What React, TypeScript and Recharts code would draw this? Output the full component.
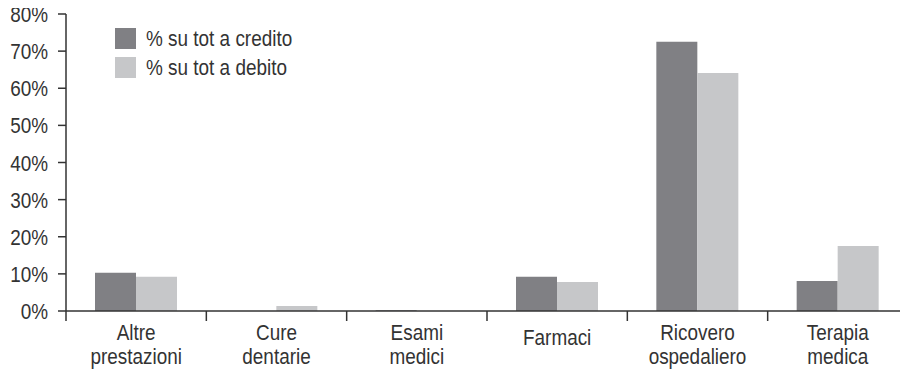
import { Bar, BarChart, XAxis, YAxis } from 'recharts';

const categories = ['Altre\nprestazioni', 'Cure\ndentarie', 'Esami\nmedici', 'Farmaci', 'Ricovero\nospedaliero', 'Terapia\nmedica'];
const credito = [10.3, 0, 0.2, 9.2, 72.5, 8.1];
const debito = [9.2, 1.35, 0, 7.8, 64.1, 17.5];
const seriesNames = ['% su tot a credito', '% su tot a debito'];
const yTicks = [0, 10, 20, 30, 40, 50, 60, 70, 80];

const CREDITO = '#808084';
const DEBITO = '#c6c7c9';
const AXIS = '#333333';
const FONT = '"Liberation Sans", Arial, sans-serif';
// condensed look: squeeze the regular face horizontally
const SQUEEZE = 0.86;

const data = categories.map((name, i) => ({ name, credito: credito[i], debito: debito[i] }));

const WIDTH = 900;
const HEIGHT = 365;
const Y_WIDTH = 58;
const BAND = (WIDTH - Y_WIDTH) / categories.length;

function NarrowText({ x, y, anchor, children }: any) {
  return (
    <g transform={`translate(${x},${y}) scale(${SQUEEZE},1)`}>
      <text x={0} y={0} textAnchor={anchor} fill="#333" fontSize={22} fontFamily={FONT}>
        {children}
      </text>
    </g>
  );
}

function CategoryTick({ x, y, payload }: any) {
  const lines = String(payload.value).split('\n');
  const left = x - BAND / 2;
  return (
    <g>
      <line x1={left} x2={left} y1={y} y2={y + 10} stroke={AXIS} strokeWidth={1.5} />
      {lines.map((line, i) => (
        <NarrowText key={i} x={x} y={lines.length === 1 ? y + 34 : y + 29 + i * 24} anchor="middle">
          {line}
        </NarrowText>
      ))}
    </g>
  );
}

function PercentTick({ x, y, payload }: any) {
  return (
    <NarrowText x={x} y={y + 8} anchor="end">
      {`${payload.value}%`}
    </NarrowText>
  );
}

export default function App() {
  return (
    <div style={{ position: 'relative', width: WIDTH, height: HEIGHT }}>
      {/* let the top tick label spill above the svg box */}
      <style>{'.recharts-surface { overflow: visible; }'}</style>
      <BarChart
        width={WIDTH}
        height={HEIGHT}
        data={data}
        margin={{ top: 6, right: 0, bottom: 0, left: 0 }}
        barGap={0}
      >
        <XAxis
          dataKey="name"
          interval={0}
          height={62}
          tickSize={0}
          tickMargin={0}
          tick={<CategoryTick />}
          axisLine={{ stroke: AXIS, strokeWidth: 1.5 }}
        />
        <YAxis
          width={Y_WIDTH}
          domain={[0, 80]}
          ticks={yTicks}
          interval={0}
          tickSize={8}
          tickMargin={10}
          tick={<PercentTick />}
          tickLine={{ stroke: AXIS, strokeWidth: 1.5 }}
          axisLine={{ stroke: AXIS, strokeWidth: 1.5 }}
        />
        <Bar dataKey="credito" name={seriesNames[0]} fill={CREDITO} barSize={41} isAnimationActive={false} />
        <Bar dataKey="debito" name={seriesNames[1]} fill={DEBITO} barSize={41} isAnimationActive={false} />
      </BarChart>
      <div style={{ position: 'absolute', left: 107, top: 20, fontFamily: FONT, fontSize: 22, color: '#333' }}>
        {seriesNames.map((label, i) => (
          <div key={label} style={{ display: 'flex', alignItems: 'center', height: 21, marginBottom: 8 }}>
            <span style={{ width: 21, height: 21, background: i === 0 ? CREDITO : DEBITO, marginRight: 10, flexShrink: 0 }} />
            <span style={{ display: 'inline-block', transform: `scaleX(${SQUEEZE})`, transformOrigin: 'left center', whiteSpace: 'nowrap' }}>
              {label}
            </span>
          </div>
        ))}
      </div>
    </div>
  );
}
